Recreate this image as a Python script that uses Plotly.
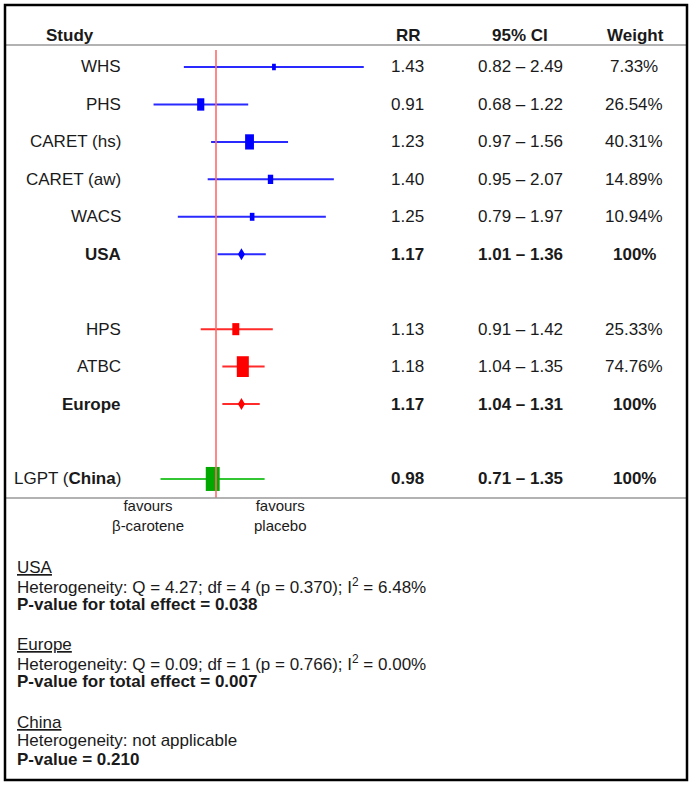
import math
import plotly.graph_objects as go

# ---------------- data ----------------
studies = ["WHS", "PHS", "CARET (hs)", "CARET (aw)", "WACS", "USA",
           "HPS", "ATBC", "Europe", "LGPT (<b>China</b>)"]
region = ["USA"] * 6 + ["Europe"] * 3 + ["China"]
is_pooled = [False] * 5 + [True] + [False, False, True, False]
emphasis = [False] * 5 + [True] + [False, False, True, True]
rr = [1.43, 0.91, 1.23, 1.40, 1.25, 1.17, 1.13, 1.18, 1.17, 0.98]
ci_low = [0.82, 0.68, 0.97, 0.95, 0.79, 1.01, 0.91, 1.04, 1.04, 0.71]
ci_high = [2.49, 1.22, 1.56, 2.07, 1.97, 1.36, 1.42, 1.35, 1.31, 1.35]
weights = [7.33, 26.54, 40.31, 14.89, 10.94, 100, 25.33, 74.76, 100, 100]

column_headers = ["RR", "95% CI", "Weight"]
favour_labels = ["favours<br>β-carotene", "favours<br>placebo"]

summary_regions = ["USA", "Europe", "China"]
heterogeneity = [
    "Q = 4.27; df = 4 (p = 0.370); I<sup>2</sup> = 6.48%",
    "Q = 0.09; df = 1 (p = 0.766); I<sup>2</sup> = 0.00%",
    "not applicable",
]
p_labels = [
    "P-value for total effect = 0.038",
    "P-value for total effect = 0.007",
    "P-value = 0.210",
]

# ---------------- styling ----------------
W, H = 693, 789
FONT = "Liberation Sans, Arial, sans-serif"
TXT = "#1a1a1a"
line_col = {"USA": "#2a2aff", "Europe": "#ff2a2a", "China": "#33c633"}
mark_col = {"USA": "#0000ff", "Europe": "#ff0000", "China": "#00a800"}


def px(x):
    return x / W


def py(y):
    return 1 - y / H


# row positions: one row per entry, an extra blank row between regions
rows = []
r = 0
for i, g in enumerate(region):
    if i > 0 and g != region[i - 1]:
        r += 1
    rows.append(r)
    r += 1

# axis geometry (pixels)
x_left_px, x_right_px, x_one_px, px_per_decade = 130, 380, 216, 373.0
x_range = [(x_left_px - x_one_px) / px_per_decade, (x_right_px - x_one_px) / px_per_decade]
y_top_px, y_bot_px, row0_px, row_step = 50, 498, 67, 37.45
y_range = [(y_bot_px - row0_px) / row_step, (y_top_px - row0_px) / row_step]

fig = go.Figure()

# CI lines
for i in range(len(studies)):
    fig.add_trace(go.Scatter(
        x=[ci_low[i], ci_high[i]], y=[rows[i], rows[i]], mode="lines",
        line=dict(color=line_col[region[i]], width=2), hoverinfo="skip",
        showlegend=False))

shapes = []
# markers (pixel-sized paths anchored at the RR value)
for i in range(len(studies)):
    c = mark_col[region[i]]
    if is_pooled[i]:
        path = "M 0,-6 L 3.5,0 L 0,6 L -3.5,0 Z"
    else:
        h = 2.4 * math.sqrt(weights[i])
        w = 0.58 * h
        path = (f"M {-w/2:.2f},{-h/2:.2f} L {w/2:.2f},{-h/2:.2f} "
                f"L {w/2:.2f},{h/2:.2f} L {-w/2:.2f},{h/2:.2f} Z")
    shapes.append(dict(
        type="path", xref="x", yref="y", xsizemode="pixel", ysizemode="pixel",
        xanchor=rr[i], yanchor=rows[i], path=path,
        fillcolor=c, line=dict(width=0), layer="above"))

# reference line at RR = 1
shapes.append(dict(type="line", xref="x", yref="y domain", x0=1, x1=1, y0=0, y1=1,
                   line=dict(color="#ff6b6b", width=1.6), layer="above"))

# frame and rules
shapes.append(dict(type="line", xref="paper", yref="paper", x0=px(5), x1=px(687),
                   y0=py(45), y1=py(45), line=dict(color="#999999", width=1.5)))
shapes.append(dict(type="line", xref="paper", yref="paper", x0=px(5), x1=px(687),
                   y0=py(498), y1=py(498), line=dict(color="#999999", width=1.5)))
shapes.append(dict(type="rect", xref="paper", yref="paper", x0=px(5), x1=px(687),
                   y0=py(780), y1=py(5), line=dict(color="#000000", width=2.5)))

ann = []
base = dict(showarrow=False, font=dict(family=FONT, size=17, color=TXT))

# headers
ann.append(dict(base, text="<b>Study</b>", x=px(70), y=py(36), xref="paper", yref="paper",
                xanchor="center", yanchor="middle"))
for hx, t in zip([408, 520, 635], column_headers):
    ann.append(dict(base, text=f"<b>{t}</b>", x=px(hx), y=py(36), xref="paper", yref="paper",
                    xanchor="center", yanchor="middle"))

# rows
for i in range(len(studies)):
    b = emphasis[i]
    lab = studies[i]
    if is_pooled[i]:
        lab = f"<b>{lab}</b>"
    wt = "100%" if weights[i] == 100 else f"{weights[i]:.2f}%"
    cells = [f"{rr[i]:.2f}", f"{ci_low[i]:.2f} – {ci_high[i]:.2f}", wt]
    ann.append(dict(base, text=lab, x=px(123), y=rows[i], xref="paper", yref="y",
                    xanchor="right", yanchor="middle"))
    for cx, t in zip([407, 520, 634], cells):
        ann.append(dict(base, text=f"<b>{t}</b>" if b else t, x=px(cx), y=rows[i],
                        xref="paper", yref="y", xanchor="center", yanchor="middle"))

# favours labels
for fx, t in zip([148, 280], favour_labels):
    ann.append(dict(showarrow=False, font=dict(family=FONT, size=15, color=TXT),
                    text=t, x=px(fx), y=py(515), xref="paper", yref="paper",
                    xanchor="center", yanchor="middle"))

# bottom notes
for k, reg in enumerate(summary_regions):
    y0 = 567 + k * 77.5
    lines = [f"<u>{reg}</u>", f"Heterogeneity: {heterogeneity[k]}", f"<b>{p_labels[k]}</b>"]
    for j, t in enumerate(lines):
        ann.append(dict(base, text=t, x=px(15), y=py(y0 + j * 18.5), xref="paper",
                        yref="paper", xanchor="left", yanchor="middle"))

fig.update_layout(
    width=W, height=H, margin=dict(l=0, r=0, t=0, b=0),
    paper_bgcolor="white", plot_bgcolor="rgba(0,0,0,0)",
    xaxis=dict(type="log", range=x_range, domain=[px(x_left_px), px(x_right_px)],
               visible=False, showgrid=False, zeroline=False),
    yaxis=dict(range=y_range, domain=[py(y_bot_px), py(y_top_px)],
               visible=False, showgrid=False, zeroline=False),
    shapes=shapes, annotations=ann, showlegend=False,
)

fig.write_html("out.html", config={"displayModeBar": False},
               post_script="document.body.style.margin='0';document.body.style.overflow='hidden';")
